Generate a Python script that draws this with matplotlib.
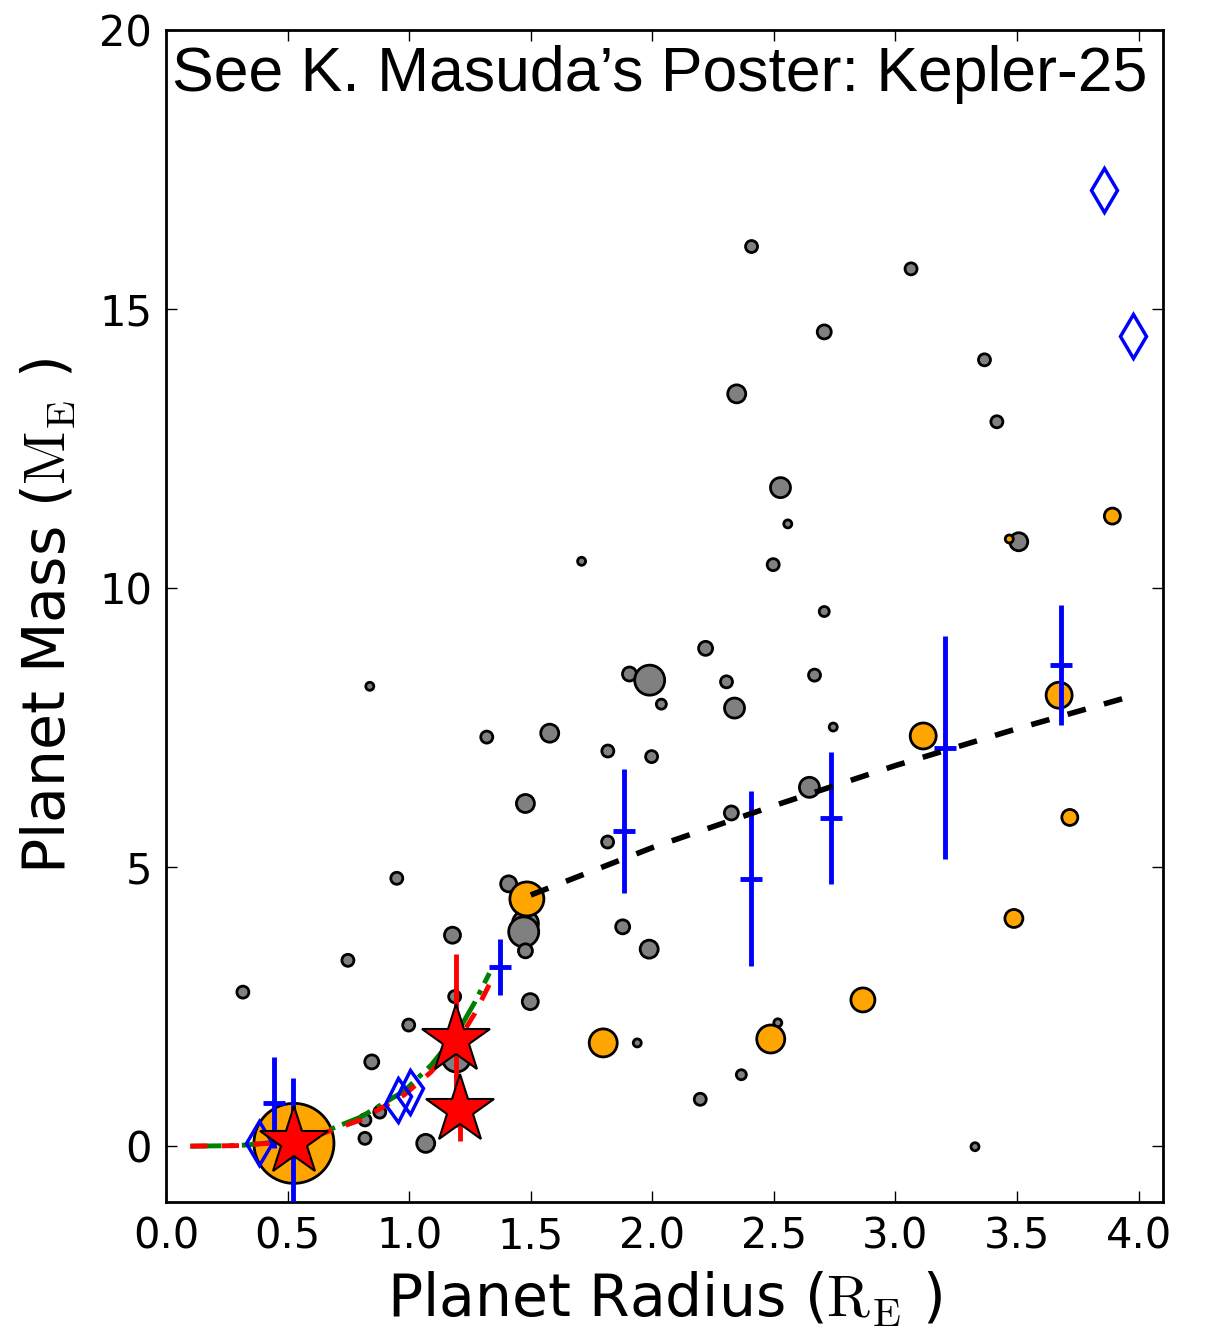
import numpy as np
import matplotlib
matplotlib.use('Agg')
import matplotlib.pyplot as plt
from matplotlib.markers import MarkerStyle
from matplotlib.transforms import Affine2D

plt.rcParams['mathtext.fontset'] = 'cm'
plt.rcParams['font.family'] = 'DejaVu Sans'

# gray: other known planets (radius, mass, marker weight)
gray_r = [0.316, 0.838, 0.748, 0.846, 0.818, 0.879, 0.818, 1.068, 0.949, 0.998,
          1.178, 1.187, 1.194, 1.409, 1.478, 1.471, 1.478, 1.498, 1.319, 1.578,
          1.478, 1.709, 1.816, 1.817, 1.878, 1.906, 1.989, 2.037, 1.997, 1.987,
          1.938, 2.197, 2.219, 2.305, 2.338, 2.325, 2.366, 2.347, 2.408, 2.497,
          2.527, 2.557, 2.516, 2.646, 2.667, 2.707, 2.707, 2.744, 3.064, 3.366,
          3.417, 3.507, 3.327]
gray_m = [2.76, 8.24, 3.33, 1.51, 0.47, 0.61, 0.14, 0.05, 4.80, 2.17,
          3.78, 2.68, 1.58, 4.70, 3.99, 3.84, 3.50, 2.59, 7.33, 7.40,
          6.14, 10.48, 5.45, 7.08, 3.93, 8.46, 8.35, 7.92, 6.98, 3.53,
          1.85, 0.84, 8.92, 8.32, 7.85, 5.97, 1.28, 13.48, 16.12, 10.42,
          11.80, 11.15, 2.21, 6.43, 8.44, 9.58, 14.59, 7.51, 15.72, 14.09,
          12.98, 10.83, -0.01]
gray_w = [6, 4, 6, 7, 6, 6, 6, 9, 6, 6,
          8, 6, 14, 8, 13, 15, 7, 8, 6, 9,
          9, 4, 6, 6, 7, 7, 15, 5, 6, 9,
          4, 6, 7, 6, 10, 7, 5, 9, 6, 6,
          10, 4, 4, 10, 6, 5, 7, 4, 6, 6,
          6, 9, 4]

# orange: planets with density measurements
org_r = [0.526, 1.484, 1.798, 2.487, 2.866, 3.114, 3.673, 3.487, 3.717, 3.892, 3.468]
org_m = [0.05, 4.43, 1.85, 1.92, 2.62, 7.35, 8.08, 4.08, 5.89, 11.29, 10.88]
org_w = [40, 17, 14, 14, 12, 13, 13, 9, 8, 8, 4]

# blue: binned means with errors
bin_r = [0.444, 0.522, 1.375, 1.882, 2.406, 2.735, 3.203, 3.680]
bin_m = [0.78, 0.08, 3.21, 5.65, 4.79, 5.88, 7.14, 8.62]
bin_e = [0.82, 1.15, 0.51, 1.11, 1.57, 1.18, 2.00, 1.08]

# red stars
star_r = [0.526, 1.194, 1.208]
star_m = [0.08, 1.90, 0.65]
star_e = [0.0, 1.55, 0.55]

# open diamonds
dia_r = [0.383, 3.858, 3.977]
dia_m = [0.05, 17.13, 14.52]
dia_skew_r = [0.954, 1.002]
dia_skew_m = [0.82, 0.97]

# composition curves
comp_r = [0.10, 0.30, 0.50, 0.64, 0.80, 0.98, 1.09, 1.20, 1.27, 1.33]
rock_m = [0.00, 0.01, 0.08, 0.22, 0.47, 0.92, 1.33, 1.88, 2.38, 2.90]
earth_m = [0.00, 0.01, 0.09, 0.24, 0.52, 0.99, 1.45, 2.05, 2.58, 3.10]

# mass-radius relation above 1.5 R_E
fit_r = [1.5, 2.0, 2.5, 3.0, 3.5, 4.0]
fit_m = [4.50, 5.35, 6.10, 6.82, 7.48, 8.10]

xticks = [0.0, 0.5, 1.0, 1.5, 2.0, 2.5, 3.0, 3.5, 4.0]
yticks = [0, 5, 10, 15, 20]

fig = plt.figure(figsize=(12.05, 13.33), dpi=100)
ax = fig.add_axes([0.1378, 0.0983, 0.8273, 0.8792])

def sz(w):
    return (2 * np.array(w) * 0.72) ** 2

ax.scatter(gray_r, gray_m, s=sz(gray_w), c='gray', edgecolors='black', linewidths=2, zorder=2)
ax.scatter(org_r, org_m, s=sz(org_w), c='orange', edgecolors='black', linewidths=2, zorder=3)

ax.errorbar(bin_r, bin_m, yerr=bin_e, fmt='_', color='blue', ms=16, mew=3.5,
            elinewidth=3.5, capsize=0, zorder=4)

ax.plot(fit_r, fit_m, 'k--', lw=4, dashes=(3.4, 3.4), zorder=5)
ax.plot(comp_r, earth_m, '-.', color='green', lw=3.5, zorder=5)
ax.plot(comp_r, rock_m, '--', color='red', lw=3.5, dashes=(3.5, 3), zorder=5)

ax.plot(dia_r, dia_m, 'd', mfc='none', mec='blue', ms=22, mew=2.5, zorder=6)
skewed = MarkerStyle('d', transform=Affine2D().skew_deg(0, 18))
ax.plot(dia_skew_r, dia_skew_m, ls='none', marker=skewed, mfc='none', mec='blue',
        ms=22, mew=2.5, zorder=6)

ax.errorbar(star_r, star_m, yerr=star_e, fmt='none', ecolor='red', elinewidth=3.5,
            capsize=0, zorder=6)
ax.plot(star_r, star_m, '*', color='red', mec='black', mew=1.5, ms=52, ls='none', zorder=7)

ax.text(0.006, 0.987, "See K. Masuda\u2019s Poster: Kepler-25", transform=ax.transAxes,
        fontsize=45, family='Liberation Sans', ha='left', va='top', zorder=8)

ax.set_xlim(0, 4.1)
ax.set_ylim(-1, 20)
ax.set_xticks(xticks)
ax.set_xticklabels([f"{t:.1f}" for t in xticks])
ax.set_yticks(yticks)
ax.tick_params(direction='in', top=True, right=True, length=8, width=1,
               labelsize=30, pad=10)
for sp in ax.spines.values():
    sp.set_linewidth(2)

ax.set_xlabel(r"Planet Radius ($\rm R_E$ )", fontsize=42)
ax.set_ylabel(r"Planet Mass ($\rm M_E$ )", fontsize=42)
ax.xaxis.set_label_coords(0.5, -0.058)
ax.yaxis.set_label_coords(-0.088, 0.5)

plt.savefig("out.png", dpi=100)
plt.close()
